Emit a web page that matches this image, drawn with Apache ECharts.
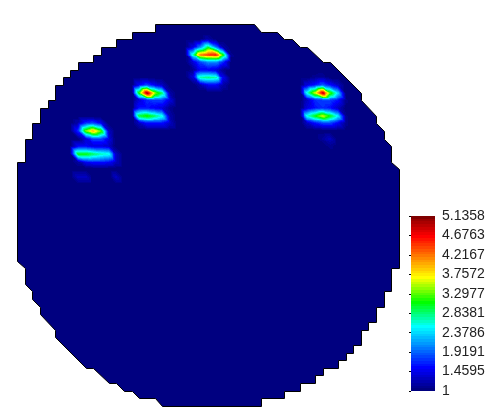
<!DOCTYPE html>
<html>
<head>
<meta charset="utf-8">
<title>Wafer map</title>
<script src="https://cdn.jsdelivr.net/npm/echarts@6/dist/echarts.min.js"></script>
<style>
  html, body { margin: 0; background: #fff; }
  #chart { width: 490px; height: 417px; }
</style>
</head>
<body>
<div id="chart"></div>
<script>
const MIN_VALUE = 1;
const MAX_VALUE = 5.1358;
const colorbarTicks = [1, 1.4595, 1.9191, 2.3786, 2.8381, 3.2977, 3.7572, 4.2167, 4.6763, 5.1358];

// 64 levels, navy at the bottom
const PALETTE = [
  "#000080", "#000090", "#0000A0", "#0000B0", "#0000C0", "#0000D0", "#0000E0", "#0000F0",
  "#0000FF", "#0011FF", "#0022FF", "#0033FF", "#0044FF", "#0055FF", "#0066FF", "#0077FF",
  "#0088FF", "#0099FF", "#00AAFF", "#00BBFF", "#00CCFF", "#00DDFF", "#00EEFF", "#00FFFF",
  "#00FFE3", "#00FFC6", "#00FFAA", "#00FF8E", "#00FF71", "#00FF55", "#00FF39", "#00FF1C", "#00FF00",
  "#1CFF00", "#39FF00", "#55FF00", "#71FF00", "#8EFF00", "#AAFF00", "#C6FF00", "#E3FF00", "#FFFF00",
  "#FFEE00", "#FFDD00", "#FFCC00", "#FFBB00", "#FFAA00", "#FF9900", "#FF8800", "#FF7700",
  "#FF6600", "#FF5500", "#FF4400", "#FF3300", "#FF2200", "#FF1100", "#FF0000",
  "#EE0000", "#DD0000", "#CC0000", "#BB0000", "#AA0000", "#990000", "#800000",
];

// wafer outline, mesh node col/row, clockwise from the top left
const edgeCols = [0, 1, 1, 2, 2, 3, 3, 4, 4, 5, 5, 6, 6, 7, 7, 8, 8, 10, 10, 11, 11, 13, 13, 15, 15, 18, 18,
  31, 32, 34, 35, 36, 37, 38, 40, 41, 45, 45, 47, 47, 48, 48, 49, 49, 50, 50,
  49, 49, 48, 48, 47, 47, 46, 46, 45, 45, 44, 44, 43, 43, 42, 42, 40, 40, 39, 39, 37, 37, 35, 35, 32, 32,
  19, 18, 16, 15, 14, 13, 12, 10, 9, 5, 5, 3, 3, 2, 2, 1, 1, 0];
const edgeRows = [18, 18, 15, 15, 13, 13, 11, 11, 10, 10, 8, 8, 7, 7, 6, 6, 5, 5, 4, 4, 3, 3, 2, 2, 1, 1, 0,
  0, 1, 1, 2, 2, 3, 3, 5, 5, 9, 10, 12, 13, 14, 15, 16, 18, 19, 32,
  32, 35, 35, 37, 37, 39, 39, 40, 40, 42, 42, 43, 43, 44, 44, 45, 45, 46, 46, 47, 47, 48, 48, 49, 49, 50,
  50, 49, 49, 48, 48, 47, 47, 45, 45, 41, 40, 38, 37, 36, 35, 34, 32, 31];

// node values above the floor, everything else on the mesh sits at MIN_VALUE
const peakTop = { col: 23, row: 2, values: [
  [1.0, 1.0, 1.2, 1.0, 1.0, 1.0],
  [1.4, 2.0, 2.9, 2.0, 1.2, 1.0],
  [2.7, 4.2, 4.5, 4.6, 3.2, 1.1],
  [1.4, 1.8, 2.1, 2.1, 1.7, 1.0],
] };
const peakTopLow = { col: 23, row: 6, values: [
  [1.1, 1.5, 1.5, 1.4, 1.1],
  [1.4, 2.8, 2.9, 2.8, 1.5],
  [1.0, 1.2, 1.5, 1.5, 1.2],
] };
const peakMid = { col: 15, row: 8, values: [
  [1.0, 1.5, 1.8, 1.5, 1.3, 1.0],
  [1.0, 3.2, 5.1, 3.5, 2.9, 1.2],
  [1.0, 1.4, 1.7, 1.8, 1.8, 1.4],
] };
const peakMidLow = { col: 15, row: 11, values: [
  [1.0, 1.6, 1.6, 1.5, 1.4, 1.1],
  [1.0, 3.0, 3.2, 2.9, 2.6, 1.2],
  [1.0, 1.3, 1.6, 1.6, 1.6, 1.3],
] };
const peakLeft = { col: 8, row: 13, values: [
  [1.2, 1.7, 1.8, 1.5, 1.0],
  [1.7, 3.4, 4.0, 3.3, 1.3],
  [1.0, 1.4, 1.8, 1.8, 1.4],
] };
const peakLeftLow = { col: 8, row: 16, values: [
  [1.5, 1.5, 1.4, 1.4, 1.3, 1.0],
  [3.1, 3.1, 2.9, 2.7, 2.6, 1.3],
  [1.2, 1.6, 1.7, 1.7, 1.6, 1.3],
] };
const faintLeft = { col: 8, row: 20, values: [[1.3, 1.3, 1.0, 1.0, 1.0, 1.3]] };
const peakRight = { col: 38, row: 7, values: [
  [1.0, 1.1, 1.15, 1.0, 1.0, 1.0],
  [1.4, 1.6, 1.9, 1.6, 1.3, 1.0],
  [2.6, 3.6, 5.0, 3.3, 2.4, 1.0],
  [1.3, 1.7, 1.8, 1.8, 1.6, 1.1],
] };
const peakRightLow = { col: 38, row: 11, values: [
  [1.4, 1.6, 1.7, 1.6, 1.3, 1.0],
  [2.6, 3.1, 3.6, 3.1, 2.5, 1.1],
  [1.3, 1.6, 1.8, 1.8, 1.5, 1.1],
] };
const faintRight = { col: 40, row: 15, values: [[1.15, 1.3], [1.0, 1.1]] };

const patches = [peakTop, peakTopLow, peakMid, peakMidLow, peakLeft, peakLeftLow, faintLeft,
  peakRight, peakRightLow, faintRight];

// mesh lookup so the patches can share edges
const nodes = new Map();
patches.forEach((p) => p.values.forEach((line, r) => line.forEach((v, c) => {
  nodes.set((p.col + c) + "," + (p.row + r), v);
})));
const nodeAt = (c, r) => nodes.get(c + "," + r) ?? MIN_VALUE;

// every cell that touches a node above the floor
const cellSeen = new Set();
const hotCells = [];
nodes.forEach((v, key) => {
  if (v <= MIN_VALUE) return;
  const [c, r] = key.split(",").map(Number);
  [[c - 1, r - 1], [c, r - 1], [c - 1, r], [c, r]].forEach(([a, b]) => {
    const id = a + "," + b;
    if (cellSeen.has(id)) return;
    cellSeen.add(id);
    hotCells.push([a, b, nodeAt(a, b), nodeAt(a + 1, b), nodeAt(a, b + 1), nodeAt(a + 1, b + 1)]);
  });
});

const colorOf = (v) => {
  const t = (v - MIN_VALUE) / (MAX_VALUE - MIN_VALUE);
  return PALETTE[Math.max(0, Math.min(PALETTE.length - 1, Math.floor(t * PALETTE.length)))];
};

const SUB = 8;

// each cell is two triangles split along the top-left to bottom-right diagonal
function renderCell(params, api) {
  const col = api.value(0);
  const row = api.value(1);
  const tl = api.value(2), tr = api.value(3), bl = api.value(4), br = api.value(5);
  const children = [];
  for (let a = 0; a < SUB; a++) {
    for (let b = 0; b < SUB; b++) {
      const u = (a + 0.5) / SUB;
      const w = (b + 0.5) / SUB;
      const v = u >= w
        ? tl + u * (tr - tl) + w * (br - tr)
        : tl + w * (bl - tl) + u * (br - bl);
      if (colorOf(v) === PALETTE[0]) continue;
      const p0 = api.coord([col + a / SUB, row + b / SUB]);
      const p1 = api.coord([col + (a + 1) / SUB, row + (b + 1) / SUB]);
      const x = Math.round(p0[0]);
      const y = Math.round(p0[1]);
      children.push({
        type: "rect",
        shape: { x, y, width: Math.round(p1[0]) - x, height: Math.round(p1[1]) - y },
        style: { fill: colorOf(v) },
      });
    }
  }
  return { type: "group", children };
}

function renderEdge(params, api) {
  const points = edgeCols.map((c, i) => {
    const p = api.coord([c, edgeRows[i]]);
    return [Math.round(p[0]) + 0.5, Math.round(p[1]) + 0.5];
  });
  return {
    type: "polygon",
    shape: { points },
    style: { fill: PALETTE[0], stroke: "#000", lineWidth: 1 },
  };
}

function renderLevel(params, api) {
  const p0 = api.coord([0, api.value(0)]);
  const p1 = api.coord([1, api.value(1)]);
  const y = Math.round(p1[1]);
  return {
    type: "rect",
    shape: { x: p0[0], y, width: p1[0] - p0[0], height: Math.round(p0[1]) - y },
    style: { fill: PALETTE[params.dataIndex] },
  };
}

const levelStep = (MAX_VALUE - MIN_VALUE) / PALETTE.length;
const levels = PALETTE.map((c, i) => [MIN_VALUE + i * levelStep, MIN_VALUE + (i + 1) * levelStep]);

const chart = echarts.init(document.getElementById("chart"), null, { renderer: "canvas" });
chart.setOption({
  animation: false,
  backgroundColor: "#fff",
  grid: [
    { left: 17, top: 24, width: 382, height: 382 },
    { left: 411, top: 216, width: 24, height: 175 },
  ],
  xAxis: [
    { gridIndex: 0, type: "value", min: 0, max: 50, show: false },
    { gridIndex: 1, type: "value", min: 0, max: 1, show: false },
  ],
  yAxis: [
    { gridIndex: 0, type: "value", min: 0, max: 50, inverse: true, show: false },
    {
      gridIndex: 1,
      type: "value",
      position: "right",
      min: MIN_VALUE,
      max: MAX_VALUE,
      splitLine: { show: false },
      axisLine: { show: false },
      axisTick: {
        show: true,
        inside: true,
        length: 2,
        customValues: colorbarTicks,
        lineStyle: { color: "#000", width: 1 },
      },
      axisLabel: {
        show: true,
        customValues: colorbarTicks,
        margin: 7,
        color: "#222",
        fontSize: 14,
        fontFamily: '"Liberation Sans", Arial, sans-serif',
        padding: [0, 0, 2, 0],
        formatter: (v) => String(v),
      },
    },
  ],
  series: [
    {
      type: "custom",
      xAxisIndex: 0,
      yAxisIndex: 0,
      data: [[0, 0]],
      silent: true,
      z: 1,
      clip: false,
      renderItem: renderEdge,
    },
    {
      type: "custom",
      xAxisIndex: 0,
      yAxisIndex: 0,
      data: hotCells,
      silent: true,
      z: 2,
      clip: false,
      renderItem: renderCell,
    },
    {
      type: "custom",
      xAxisIndex: 1,
      yAxisIndex: 1,
      data: levels,
      silent: true,
      z: 1,
      clip: false,
      renderItem: renderLevel,
    },
  ],
});
</script>
</body>
</html>
